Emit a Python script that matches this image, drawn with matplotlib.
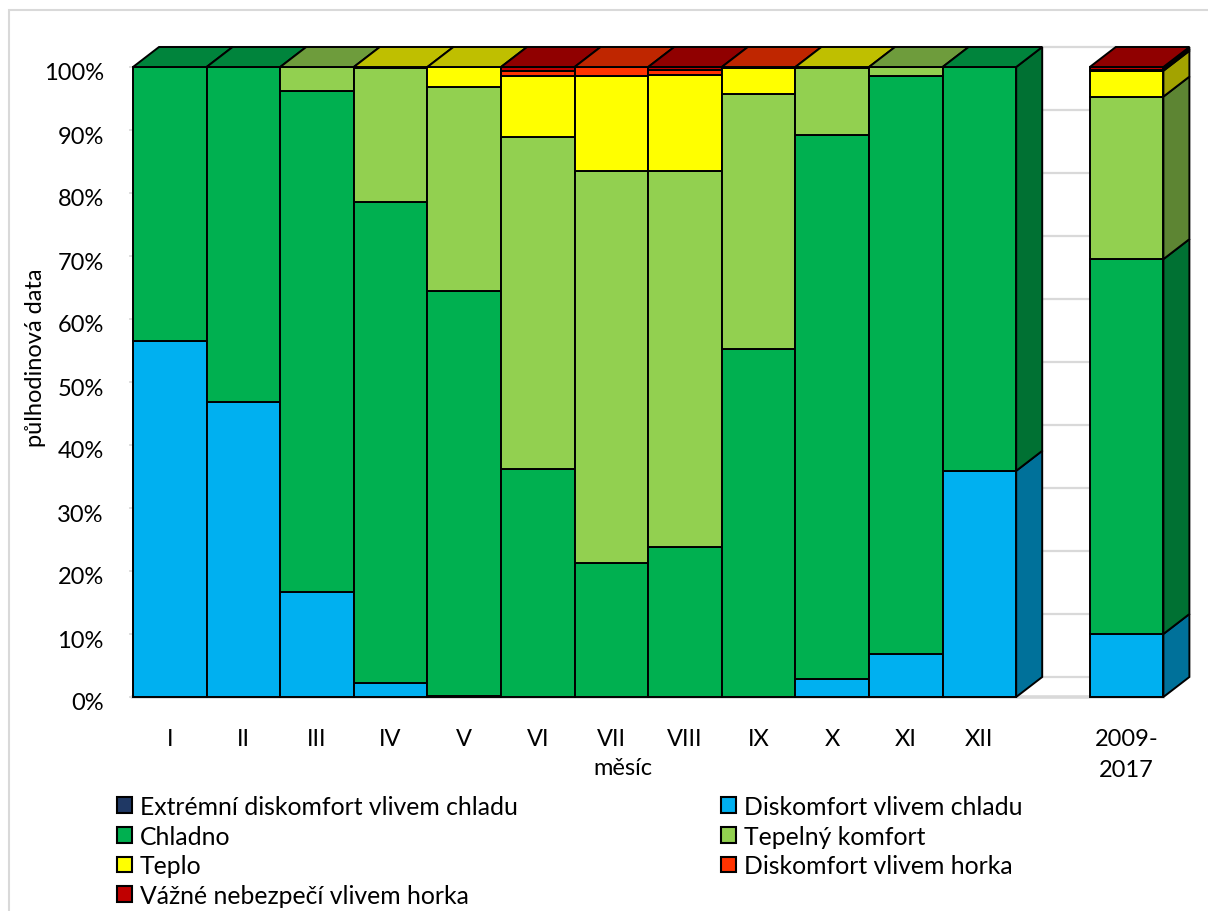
import matplotlib
matplotlib.use("Agg")
import matplotlib.pyplot as plt
from matplotlib.patches import Polygon, Patch, Rectangle
from matplotlib.transforms import ScaledTranslation
from matplotlib.colors import to_rgb

plt.rcParams['font.family'] = ['Lato', 'DejaVu Sans']

# ---- data: share of half-hourly records per thermal class (%) ----
months = ["I", "II", "III", "IV", "V", "VI", "VII", "VIII", "IX", "X", "XI", "XII"]
period_label = "2009-\n2017"

series_names = [
    "Extrémní diskomfort vlivem chladu",
    "Diskomfort vlivem chladu",
    "Chladno",
    "Tepelný komfort",
    "Teplo",
    "Diskomfort vlivem horka",
    "Vážné nebezpečí vlivem horka",
]

# 12 months followed by the whole 2009-2017 period
extreme_cold = [0, 0, 0, 0, 0, 0, 0, 0, 0, 0, 0, 0, 0]
cold_discomfort = [56.5, 46.8, 16.7, 2.2, 0.2, 0, 0, 0, 0, 2.9, 6.8, 35.9, 10.0]
cool = [43.5, 53.2, 79.5, 76.4, 64.2, 36.2, 21.3, 23.8, 55.2, 86.3, 91.7, 64.1, 59.5]
comfort = [0, 0, 3.8, 21.3, 32.5, 52.7, 62.2, 59.7, 40.5, 10.7, 1.5, 0, 25.8]
warm = [0, 0, 0, 0.1, 3.1, 9.6, 15.0, 15.3, 4.2, 0.1, 0, 0, 4.1]
heat_discomfort = [0, 0, 0, 0, 0, 0.9, 1.5, 0.7, 0.1, 0, 0, 0, 0.2]
heat_danger = [0, 0, 0, 0, 0, 0.6, 0, 0.5, 0, 0, 0, 0, 0.4]

series = [extreme_cold, cold_discomfort, cool, comfort, warm, heat_discomfort, heat_danger]
colors = ["#1F3864", "#00B0F0", "#00B050", "#92D050", "#FFFF00", "#FF3300", "#C00000"]

# ---- figure geometry ----
W, H, DPI = 1208, 912, 100
fig = plt.figure(figsize=(W / DPI, H / DPI), dpi=DPI)
fig.patch.set_facecolor("white")

left_px, right_px, bottom_px, top_px = 133, 133 + 14 * 73.6, 698, 68
ax = fig.add_axes([left_px / W, 1 - bottom_px / H,
                   (right_px - left_px) / W, (bottom_px - top_px) / H])
ax.set_xlim(0, 14)
ax.set_ylim(0, 100)
for s in ax.spines.values():
    s.set_visible(False)

# oblique depth of the 3-D boxes, in data units
DX = 26 / 73.6
DY = 20 / 6.3

GRID = "#D9D9D9"
EDGE = "black"
LW = 1.4


def shade(c, f):
    r, g, b = to_rgb(c)
    return (r * f, g * f, b * f)


# back-wall gridlines and floor edge
for v in range(0, 101, 10):
    ax.plot([DX, 14 + DX], [v + DY, v + DY], color=GRID, lw=1.6,
            clip_on=False, zorder=1, solid_capstyle="butt")
ax.plot([0, 14], [0, 0], color=GRID, lw=2.6, clip_on=False, zorder=1)

# stacked 3-D columns
positions = list(range(12)) + [13]
for j, x0 in enumerate(positions):
    x1 = x0 + 1
    base = 0.0
    top_color = None
    for k, vals in enumerate(series):
        v = vals[j]
        if v <= 0:
            continue
        y0, y1 = base, base + v
        side = Polygon([(x1, y0), (x1 + DX, y0 + DY), (x1 + DX, y1 + DY), (x1, y1)],
                       closed=True, facecolor=shade(colors[k], 0.64),
                       edgecolor=EDGE, lw=LW, clip_on=False, zorder=2)
        front = Polygon([(x0, y0), (x1, y0), (x1, y1), (x0, y1)],
                        closed=True, facecolor=colors[k],
                        edgecolor=EDGE, lw=LW, clip_on=False, zorder=2)
        ax.add_patch(side)
        ax.add_patch(front)
        base = y1
        top_color = colors[k]
    topf = Polygon([(x0, base), (x0 + DX, base + DY), (x1 + DX, base + DY), (x1, base)],
                   closed=True, facecolor=shade(top_color, 0.75),
                   edgecolor=EDGE, lw=LW, clip_on=False, zorder=2)
    ax.add_patch(topf)

# ---- axes text ----
ax.set_yticks(range(0, 101, 10))
ax.set_yticklabels([f"{v}%" for v in range(0, 101, 10)])
ax.tick_params(axis="y", length=3, width=1.2, color=GRID, pad=18, labelsize=17)
shift = ScaledTranslation(0, -4 / DPI, fig.dpi_scale_trans)
for lab in ax.get_yticklabels():
    lab.set_transform(lab.get_transform() + shift)

ax.set_xticks([p + 0.5 for p in positions])
ax.set_xticklabels(months + [period_label])
ax.tick_params(axis="x", length=0, pad=22, labelsize=17)
ax.get_xticklabels()[-1].set_linespacing(1.6)

ax.set_xlabel("měsíc", fontsize=17)
ax.xaxis.label.set_va("center")
ax.xaxis.set_label_coords((623 - left_px) / (right_px - left_px),
                          (bottom_px - 769) / (bottom_px - top_px))
ax.set_ylabel("půlhodinová data", fontsize=17)
ax.yaxis.label.set_va("center")
ax.yaxis.set_label_coords((36 - left_px) / (right_px - left_px),
                          (bottom_px - 358) / (bottom_px - top_px))

# ---- legend in two columns ----
handles = [Patch(facecolor=c, edgecolor="black", lw=1.5, label=n)
           for c, n in zip(colors, series_names)]
col1 = [handles[i] for i in (0, 2, 4, 6)]
col2 = [handles[i] for i in (1, 3, 5)]
leg_kw = dict(frameon=False, fontsize=17.8, handlelength=0.6, handleheight=0.6,
              handletextpad=0.33, labelspacing=0.27, borderpad=0, borderaxespad=0,
              loc="upper left")
leg1 = fig.legend(handles=col1, bbox_to_anchor=(117 / W, 1 - 796 / H), **leg_kw)
leg2 = fig.legend(handles=col2, bbox_to_anchor=(721 / W, 1 - 796 / H), **leg_kw)

# chart-area border
fig.patches.append(Rectangle((9 / W, -0.01), 1.02 - 9 / W, 1.01 - 11 / H + 0.0,
                             transform=fig.transFigure, fill=False,
                             edgecolor=GRID, lw=1.5))

fig.savefig("out.png", dpi=DPI)
